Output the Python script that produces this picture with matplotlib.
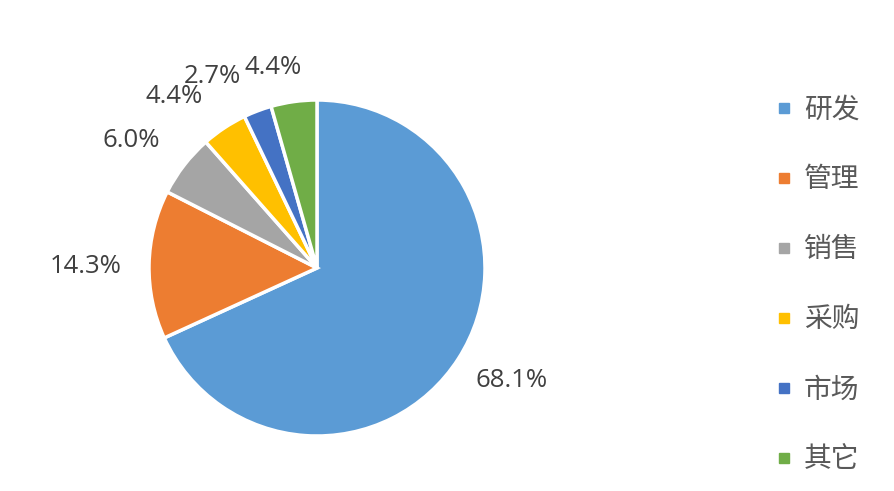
import numpy as np
import matplotlib
matplotlib.use("Agg")
import matplotlib.pyplot as plt
from matplotlib.lines import Line2D

plt.rcParams['font.family'] = ['Noto Sans CJK SC', 'DejaVu Sans']

# 部门人员占比
categories = ['研发', '管理', '销售', '采购', '市场', '其它']
shares = [68.1, 14.3, 6.0, 4.4, 2.7, 4.4]
colors = ['#5B9BD5', '#ED7D31', '#A5A5A5', '#FFC000', '#4472C4', '#70AD47']
# label placement (radius, angle shift in degrees) like Excel's best fit
label_radius = [1.34, 1.375, 1.34, 1.33, 1.30, 1.22]
label_shift = [2.6, 0.9, 3.4, 6.2, 7.9, 4.4]

fig = plt.figure(figsize=(8.95, 4.91), dpi=100)
# pie centre ~ (317, 268) px, radius ~ 168 px
ax = fig.add_axes([(317 - 168) / 895, (223 - 168) / 491, 336 / 895, 336 / 491])

wedges, _ = ax.pie(shares, colors=colors, startangle=90, counterclock=False,
                   radius=1, wedgeprops=dict(edgecolor='white', linewidth=2.5))
ax.set_xlim(-1, 1)
ax.set_ylim(-1, 1)
ax.set_aspect('equal')

# percentage labels outside the wedges
for w, v, r, s in zip(wedges, shares, label_radius, label_shift):
    ang = np.deg2rad((w.theta1 + w.theta2) / 2 + s)
    ax.text(r * np.cos(ang), r * np.sin(ang), f"{v:.1f}%", ha='center', va='center',
            fontsize=18.5, color='#404040', family=['Open Sans', 'DejaVu Sans'],
            clip_on=False)

handles = [Line2D([], [], marker='s', linestyle='none', markersize=7,
                  markerfacecolor=c, markeredgecolor=c) for c in colors]
fig.legend(handles, categories, loc='upper left', bbox_to_anchor=(0.853, 0.836),
           frameon=False, fontsize=20, labelcolor='#595959', labelspacing=1.44,
           handlelength=0.5, handletextpad=0.45, borderpad=0)

fig.savefig('out.png', dpi=100)
